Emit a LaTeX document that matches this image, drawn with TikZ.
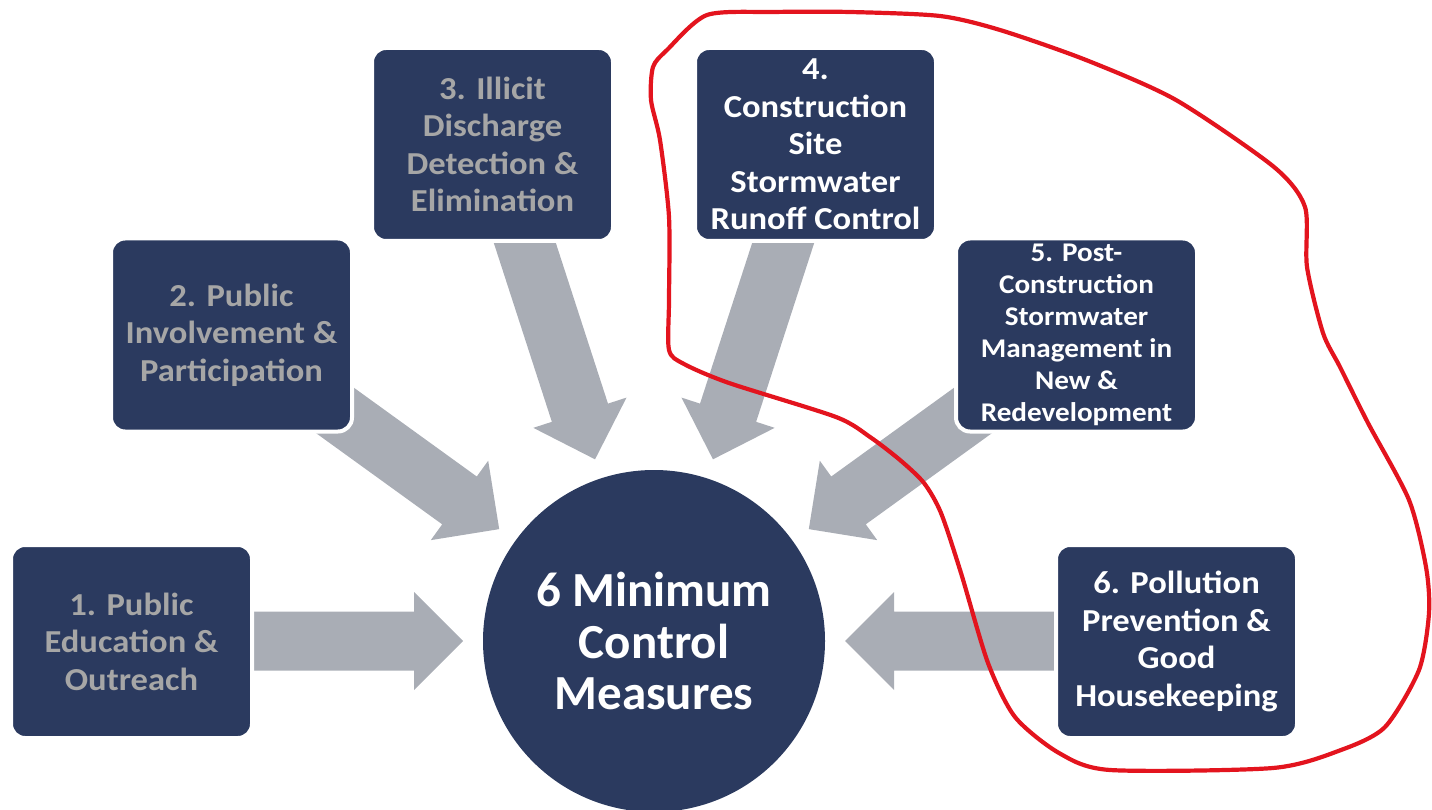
\documentclass[tikz,border=0pt]{standalone}
\usepackage{fontspec}
\setmainfont{Carlito}
\usetikzlibrary{calc}
\definecolor{navy}{HTML}{2B3A5F}
\definecolor{arrowgray}{HTML}{A9ADB5}
\definecolor{labelgray}{HTML}{A6A6A6}
\definecolor{markred}{HTML}{E3141E}

% block arrow from tail #1 to tip #2: shaft 59 wide, head 98 wide and 49 long
\newcommand\blockarrow[2]{%
  \coordinate (hb) at ($(#2)!49pt!(#1)$);
  \fill[arrowgray] ($(#1)!29.5pt!90:(#2)$) -- ($(hb)!29.5pt!-90:(#1)$)
    -- ($(hb)!49pt!-90:(#1)$) -- (#2) -- ($(hb)!49pt!90:(#1)$)
    -- ($(hb)!29.5pt!90:(#1)$) -- ($(#1)!29.5pt!-90:(#2)$) -- cycle;}

\tikzset{
  box/.style={rectangle, rounded corners=14pt, fill=navy, draw=white, line width=4pt,
    minimum width=241pt, minimum height=193pt, inner sep=0pt, align=center,
    font=\bfseries\addfontfeatures{FakeStretch=1.08}\fontsize{32}{37.5}\selectfont},
  graytext/.style={text=labelgray},
  whitetext/.style={text=white},
  hub/.style={circle, fill=navy, minimum size=342pt, inner sep=0pt, align=center,
    text=white, font=\bfseries\fontsize{49}{51.5}\selectfont}
}

\begin{document}
\begin{tikzpicture}[x=1pt,y=-1pt]
\useasboundingbox (0,0) rectangle (1432,810);

% central measure
\node[hub] (mcm) at (654,641) {6 Minimum\\Control\\Measures};

% arrow tails, hidden under the boxes
\coordinate (t1) at (238,641);
\coordinate (t2) at (321.5,400.7);
\coordinate (t3) at (519,225);
\coordinate (t4) at (789,225);
\coordinate (t5) at (986.5,400.7);
\coordinate (t6) at (1070,641);
% arrow tips, all at the same distance from the hub
\foreach \i in {1,...,6}{
  \coordinate (p\i) at ($(mcm.center)!191pt!(t\i)$);
}
\foreach \i in {1,...,6}{
  \blockarrow{t\i}{p\i}
}

% the six measures
\node[box, graytext] (b1) at (131.5,641.5) {1. Public\\Education \&\\Outreach};
\node[box, graytext] (b2) at (231.5,335) {2. Public\\Involvement \&\\Participation};
\node[box, graytext] (b3) at (492.5,144.5) {3. Illicit\\Discharge\\Detection \&\\Elimination};
\node[box, whitetext] (b4) at (815.5,144.5) {4.\\Construction\\Site\\Stormwater\\Runoff Control};
\node[box, whitetext, font=\bfseries\addfontfeatures{FakeStretch=1.08}\fontsize{27}{32}\selectfont] (b5) at (1076.5,335)
  {5. Post-\\Construction\\Stormwater\\Management in\\New \&\\Redevelopment};
\node[box, whitetext] (b6) at (1176.5,641.5) {6. Pollution\\Prevention \&\\Good\\Housekeeping};

% hand-drawn loop around measures 4 to 6
\draw[markred, line width=4.2pt, line cap=round, line join=round]
  plot[smooth cycle, tension=0.45] coordinates {
  (669,350) (684,364) (729,383) (836,417) (870,437) (900,460) (924,483) (941,513)
  (961,573) (988,663) (1015,717) (1059,753) (1110,770) (1273,768) (1341,750)
  (1385,727) (1419,670) (1429,613) (1426,567) (1409,500) (1368,423) (1340,367)
  (1323,333) (1307,267) (1305,207) (1274,167) (1176,100) (1086,60) (1000,30)
  (940,16) (850,12) (774,12) (707,15) (667,50) (653,67) (651,100) (660,140)
  (669,217) (669,300)};
\end{tikzpicture}
\end{document}
